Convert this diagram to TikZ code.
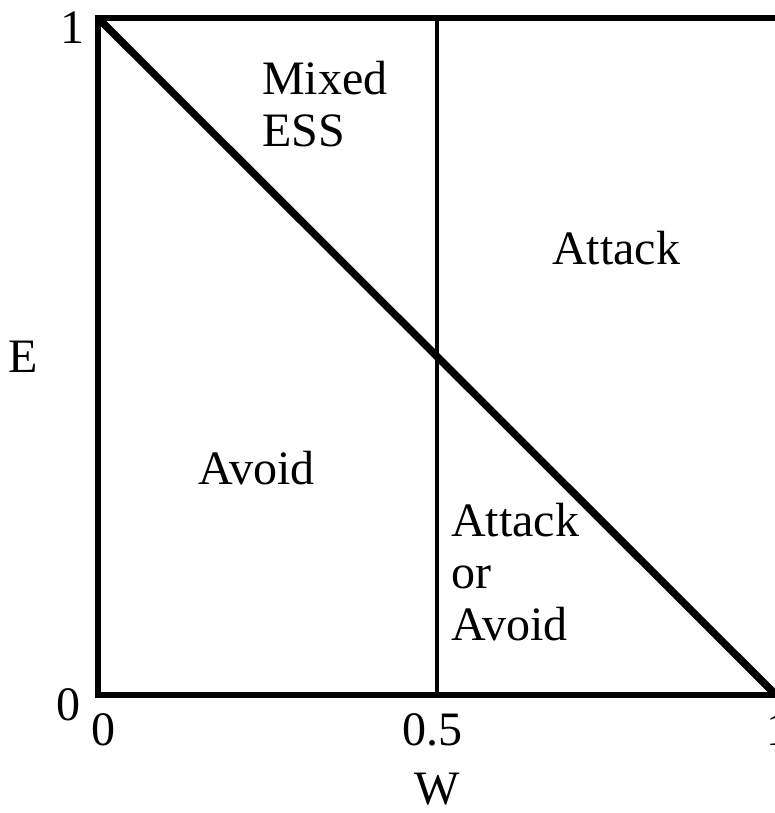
\documentclass[tikz,border=0pt]{standalone}
\usepackage{fontspec}
\setmainfont{Liberation Serif}
\usetikzlibrary{positioning}

\begin{document}
\begin{tikzpicture}[x=678pt,y=677pt,
  frame/.style={line width=5.5pt,line join=miter},
  split/.style={line width=4.5pt},
  diag/.style={line width=7.5pt},
  tick/.style={inner sep=0pt,font=\fontsize{48}{52}\selectfont},
  region/.style={inner sep=0pt,align=left,anchor=base west,font=\fontsize{48}{52}\selectfont}
]
\useasboundingbox (-0.14454,-0.17430) rectangle (0.99853,1.02659);
\coordinate (orig) at (0,0);
\coordinate (ytop) at (0,1);
\coordinate (xend) at (1,0);
\coordinate (corner) at (1,1);
\coordinate (midb) at (0.5,0);
\coordinate (midt) at (0.5,1);
% axes and frame
\draw[frame] (corner) -- (ytop) -- (orig) -- (xend);
\draw[split] (midb) -- (midt);
\draw[diag] (ytop) -- (xend);
% tick labels
\node[tick] (e1) at (-0.0369,0.9852) {1};
\node[tick] (e0) at (-0.0442,-0.0148) {0};
\node[tick] (w0) at (0.0074,-0.0517) {0};
\node[tick] (wh) at (0.494,-0.0517) {0.5};
\node[tick] (w1) at (1.003,-0.0517) {1};
\node[tick] (wlab) at (0.5,-0.1388) {W};
\node[tick] (elab) at (-0.1106,0.4993) {E};
% regions (base = last line)
\node[region] (mixed) at (0.2419,0.8095) {Mixed\\ESS};
\node[region] (attack) at (0.6696,0.6352) {Attack};
\node[region] (avoid) at (0.1475,0.3102) {Avoid};
\node[region] (either) at (0.5206,0.0812) {Attack\\or\\Avoid};
\end{tikzpicture}
\end{document}
